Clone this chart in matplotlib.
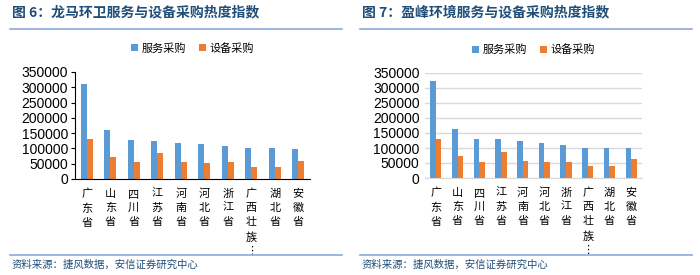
import matplotlib.pyplot as plt
import numpy as np

plt.rcParams['font.family'] = ['Noto Sans CJK SC', 'DejaVu Sans']

provinces = ["广东省", "山东省", "四川省", "江苏省", "河南省",
             "河北省", "浙江省", "广西壮族…", "湖北省", "安徽省"]

# 龙马环卫
lm_service = [310000, 160000, 126000, 124000, 118000, 113000, 109000, 101000, 101000, 99000]
lm_equip = [130000, 73000, 54000, 86000, 54000, 52000, 54000, 40000, 40000, 60000]
# 盈峰环境
yf_service = [323000, 165000, 130000, 130000, 122000, 118000, 110000, 101000, 101000, 99000]
yf_equip = [130000, 75000, 54000, 86000, 56000, 54000, 54000, 39000, 41000, 62000]

titles = ["图 6：龙马环卫服务与设备采购热度指数", "图 7：盈峰环境服务与设备采购热度指数"]
source = "资料来源：捷风数据，安信证券研究中心"
legend_names = ["服务采购", "设备采购"]

blue = "#5B9BD5"
orange = "#ED7D31"
title_color = "#1F4E79"
line_color = "#8FAADC"

W, H = 700, 275
fig = plt.figure(figsize=(7, 2.75), dpi=100)


def px(x0, y0, x1, y1):
    return [x0 / W, 1 - y1 / H, (x1 - x0) / W, (y1 - y0) / H]


def vert(s):
    return "\n".join("⋮" if ch == "…" else ch for ch in s)


x = np.arange(len(provinces))
bw = 0.26

panels = [
    (px(75, 72, 310, 179), lm_service, lm_equip, 0, False),
    (px(425, 73, 642, 178), yf_service, yf_equip, 350, True),
]

for i, (rect, serv, equip, off, grid) in enumerate(panels):
    ax = fig.add_axes(rect)
    ax.bar(x - bw / 2, serv, bw, color=blue, label=legend_names[0])
    ax.bar(x + bw / 2, equip, bw, color=orange, label=legend_names[1])
    ax.set_xlim(-0.5, len(provinces) - 0.5)
    ax.set_ylim(0, 350000)
    ax.set_yticks(np.arange(0, 350001, 50000))
    ax.set_yticklabels([str(v) for v in range(0, 350001, 50000)],
                       fontsize=10, family=['Liberation Sans', 'DejaVu Sans'])
    ax.set_xticks(x)
    ax.set_xticklabels([vert(p) for p in provinces], fontsize=8, linespacing=1.5,
                       va='top')
    ax.tick_params(axis='x', length=0, pad=7)
    ax.spines['top'].set_visible(False)
    ax.spines['right'].set_visible(False)
    if grid:
        ax.spines['left'].set_visible(False)
        ax.spines['bottom'].set_color('#D9D9D9')
        ax.yaxis.grid(True, color='#D9D9D9', linewidth=1)
        ax.set_axisbelow(True)
        ax.tick_params(axis='y', length=0, pad=4)
    else:
        ax.spines['left'].set_color('black')
        ax.spines['bottom'].set_color('black')
        ax.tick_params(axis='y', length=3, width=0.8, pad=2)
    ax.legend(loc='center', bbox_to_anchor=(0.5, 1.22), ncol=2, frameon=False,
              fontsize=8, handlelength=0.6, handleheight=0.6, handletextpad=0.3,
              columnspacing=1.2)

    # header and footer
    fig.text((12 + off) / W, 1 - 12 / H, titles[i], fontsize=10, fontweight='bold',
             color=title_color, va='center', ha='left')
    fig.add_artist(plt.Line2D([(10 + off) / W, (342 + off) / W], [1 - 29 / H] * 2,
                              color=line_color, linewidth=1.2))
    fig.add_artist(plt.Line2D([(10 + off) / W, (342 + off) / W], [1 - 255 / H] * 2,
                              color=line_color, linewidth=1.2))
    fig.text((12 + off) / W, 1 - 265 / H, source, fontsize=7.5, style='italic',
             color=title_color, va='center', ha='left')

fig.savefig("out.png", dpi=100)
